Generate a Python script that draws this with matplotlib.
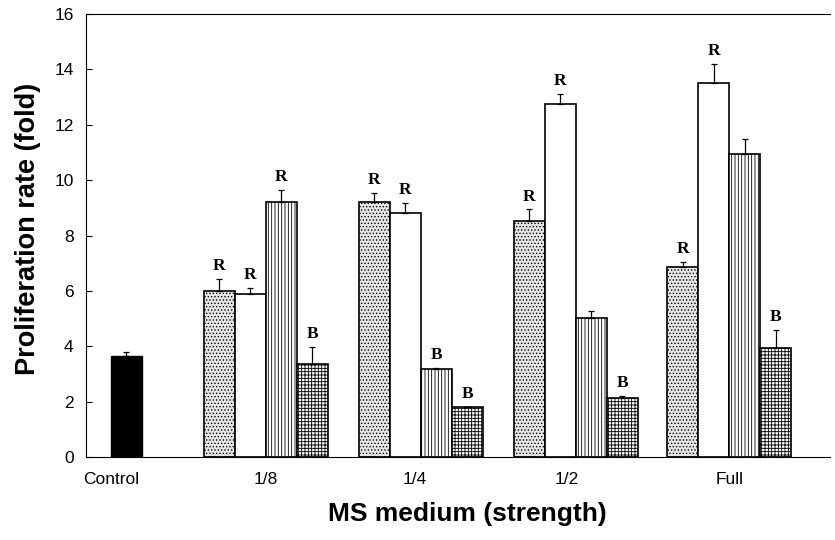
import numpy as np
import matplotlib
matplotlib.use('Agg')
import matplotlib.pyplot as plt

# data
groups = ['1/8', '1/4', '1/2', 'Full']
control_val = 3.65
control_err = 0.15

dotted = [6.0, 9.22, 8.54, 6.86]
dotted_err = [0.42, 0.30, 0.40, 0.18]
white = [5.87, 8.83, 12.76, 13.52]
white_err = [0.25, 0.36, 0.34, 0.67]
vertical = [9.22, 3.18, 5.02, 10.94]
vertical_err = [0.44, 0.05, 0.25, 0.54]
cross = [3.36, 1.79, 2.12, 3.92]
cross_err = [0.62, 0.03, 0.08, 0.66]

# significance letters (None = no letter)
dotted_lab = ['R', 'R', 'R', 'R']
white_lab = ['R', 'R', 'R', 'R']
vertical_lab = ['R', 'B', None, None]
cross_lab = ['B', 'B', 'B', 'B']

plt.rcParams['hatch.linewidth'] = 0.6

fig = plt.figure(figsize=(8.35, 5.4), dpi=100)
ax = fig.add_axes([0.103, 0.1537, 0.891, 0.8203])

w = 1.0
centers = np.array([4.5, 9.5, 14.5, 19.45])

ax.bar(0, control_val, w, color='black', edgecolor='black', zorder=2)
ax.errorbar(0, control_val, yerr=[[0], [control_err]], fmt='none',
            ecolor='black', elinewidth=0.9, capsize=2.5, capthick=0.9)

series = [
    (dotted, dotted_err, dotted_lab, dict(facecolor='#e6e6e6', hatch='.....')),
    (white, white_err, white_lab, dict(facecolor='white')),
    (vertical, vertical_err, vertical_lab, dict(facecolor='white', hatch='|||||')),
    (cross, cross_err, cross_lab, dict(facecolor='white', hatch='+++++')),
]

for i, (vals, errs, labs, style) in enumerate(series):
    xs = centers - 1.5 + i
    ax.bar(xs, vals, w, edgecolor='black', linewidth=1.2, zorder=2, **style)
    ax.errorbar(xs, vals, yerr=[np.zeros(len(vals)), errs], fmt='none',
                ecolor='black', elinewidth=0.9, capsize=2.5, capthick=0.9, zorder=3)
    for x, v, e, lab in zip(xs, vals, errs, labs):
        if lab:
            ax.text(x, v + e + 0.18, lab, ha='center', va='bottom',
                    fontfamily='Liberation Serif', fontweight='bold', fontsize=12.5)

ax.set_xlim(-1.3, 22.7)
ax.set_ylim(0, 16)
ax.set_yticks(range(0, 17, 2))
ax.set_xticks([-0.5, 4.5, 9.3, 14.2, 19.45])
ax.set_xticklabels(['Control'] + groups)
ax.tick_params(axis='x', length=0, pad=11, labelsize=12.5)
ax.tick_params(axis='y', direction='in', length=4, labelsize=12.5, pad=9)
for lab in ax.get_xticklabels() + ax.get_yticklabels():
    lab.set_fontfamily('Liberation Sans')
ax.spines['right'].set_visible(False)

ax.set_ylabel('Proliferation rate (fold)', fontfamily='Liberation Sans',
              fontweight='bold', fontsize=19.5)
ax.set_xlabel('MS medium (strength)', fontfamily='Liberation Sans',
              fontweight='bold', fontsize=19)
ax.yaxis.set_label_coords(-0.061, 0.515)
ax.xaxis.set_label_coords(0.513, -0.102)

fig.savefig('out.png', dpi=100)
